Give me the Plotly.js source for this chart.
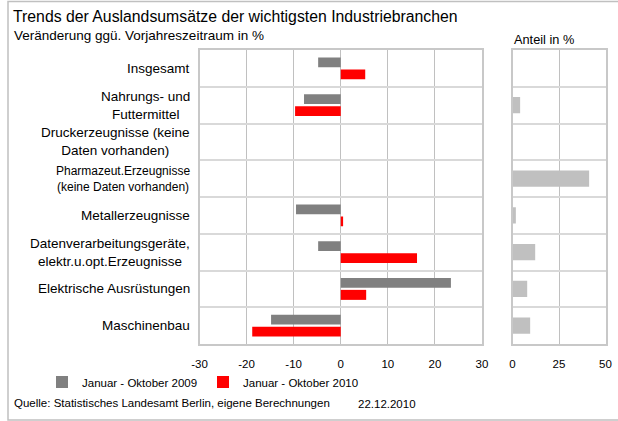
<!DOCTYPE html>
<html>
<head>
<meta charset="utf-8">
<script src="https://cdn.plot.ly/plotly-3.0.1.min.js"></script>
<style>html,body{margin:0;padding:0;background:#fff;}#chart{width:618px;height:421px;}</style>
</head>
<body>
<div id="chart"></div>
<script>
var categories = [
  "Insgesamt",
  "Nahrungs- und<br>Futtermittel",
  "Druckerzeugnisse (keine<br>Daten vorhanden)",
  "Pharmazeut.Erzeugnisse<br>(keine Daten vorhanden)",
  "Metallerzeugnisse",
  "Datenverarbeitungsgeräte,<br>elektr.u.opt.Erzeugnisse",
  "Elektrische Ausrüstungen",
  "Maschinenbau"
];
var seriesNames = ["Januar - Oktober 2009", "Januar - Oktober 2010"];
var values2009 = [-4.8, -7.8, null, null, -9.5, -4.8, 23.4, -14.8];
var values2010 = [5.2, -9.7, null, null, 0.5, 16.2, 5.4, -18.8];
var anteil = [null, 4.1, null, 41.2, 1.8, 12.2, 7.9, 9.5];
var leftTicks = [-30, -20, -10, 0, 10, 20, 30];
var rightTicks = [0, 25, 50];

var W = 618, H = 421;
function px(x){ return x / W; }
function py(y){ return 1 - y / H; }
var font = "Liberation Sans, Arial, sans-serif";
var labelSizes = [13.5, 13.5, 13.5, 12, 13.5, 13.5, 13.5, 13.5];

var traces = [
  {type: "bar", orientation: "h", name: seriesNames[0], x: values2009, y: categories,
   xaxis: "x", yaxis: "y", marker: {color: "#808080"}, hoverinfo: "x"},
  {type: "bar", orientation: "h", name: seriesNames[1], x: values2010, y: categories,
   xaxis: "x", yaxis: "y", marker: {color: "#ff0000"}, hoverinfo: "x"},
  {type: "bar", orientation: "h", name: "Anteil in %", x: anteil, y: categories,
   xaxis: "x2", yaxis: "y2", marker: {color: "#c0c0c0"}, width: 0.44, showlegend: false, hoverinfo: "x"}
];

var annotations = categories.map(function(c, i){
  return {xref: "paper", yref: "y", x: px(192), y: c, text: c, showarrow: false,
    xanchor: "right", yanchor: "middle", align: "center",
    font: {family: font, size: labelSizes[i], color: "#000"}};
});
annotations.push(
  {xref: "paper", yref: "paper", x: px(12), y: py(36), text: "Veränderung ggü. Vorjahreszeitraum in %",
   showarrow: false, xanchor: "left", yanchor: "middle", font: {family: font, size: 13.5, color: "#000"}},
  {xref: "paper", yref: "paper", x: px(512), y: py(40), text: "Anteil in %",
   showarrow: false, xanchor: "left", yanchor: "middle", font: {family: font, size: 12.75, color: "#000"}},
  {xref: "paper", yref: "paper", x: px(12), y: py(403), text: "Quelle: Statistisches Landesamt Berlin, eigene Berechnungen",
   showarrow: false, xanchor: "left", yanchor: "middle", font: {family: font, size: 11.5, color: "#000"}},
  {xref: "paper", yref: "paper", x: px(356), y: py(404), text: "22.12.2010",
   showarrow: false, xanchor: "left", yanchor: "middle", font: {family: font, size: 11.5, color: "#000"}}
);

var layout = {
  width: W, height: H,
  margin: {l: 0, r: 0, t: 0, b: 0},
  paper_bgcolor: "#fff", plot_bgcolor: "#fff",
  font: {family: font, size: 11.5, color: "#000"},
  title: {text: "Trends der Auslandsumsätze der wichtigsten Industriebranchen",
    x: px(13), xanchor: "left", xref: "paper", y: py(16), yanchor: "middle", yref: "paper",
    font: {family: font, size: 15.8, color: "#000"}},
  barmode: "group", bargap: 0.347, bargroupgap: 0.167,
  xaxis: {domain: [px(199.5), px(482)], range: [-30, 30], tickvals: leftTicks, ticktext: leftTicks.map(String),
    showgrid: true, gridcolor: "#c0c0c0", gridwidth: 1, zeroline: false,
    showline: true, mirror: true, linecolor: "#c8c8c8", linewidth: 2, ticks: "", ticklabelstandoff: 8,
    tickfont: {family: font, size: 11.5, color: "#000"}, automargin: false, fixedrange: true},
  yaxis: {domain: [py(344), py(50)], type: "category", autorange: "reversed", tickson: "boundaries",
    showticklabels: false, showgrid: true, gridcolor: "#d9d9d9", gridwidth: 2, zeroline: false,
    showline: true, mirror: true, linecolor: "#c8c8c8", linewidth: 2, ticks: "", automargin: false, anchor: "x"},
  xaxis2: {domain: [px(512.5), px(605.5)], range: [0, 50], tickvals: rightTicks, ticktext: rightTicks.map(String),
    anchor: "y2", showgrid: true, gridcolor: "#c0c0c0", gridwidth: 1, zeroline: false,
    showline: true, mirror: true, linecolor: "#c8c8c8", linewidth: 2, ticks: "", ticklabelstandoff: 8,
    tickfont: {family: font, size: 11.5, color: "#000"}, automargin: false, fixedrange: true},
  yaxis2: {domain: [py(344), py(50)], type: "category", autorange: "reversed", tickson: "boundaries",
    showticklabels: false, showgrid: true, gridcolor: "#d9d9d9", gridwidth: 2, zeroline: false,
    showline: true, mirror: true, linecolor: "#c8c8c8", linewidth: 2, ticks: "", automargin: false, anchor: "x2"},
  showlegend: true,
  legend: {orientation: "h", x: px(42), y: py(382), xanchor: "left", yanchor: "middle",
    font: {family: font, size: 11.5, color: "#000"}, itemwidth: 30, entrywidth: 116, entrywidthmode: "pixels",
    bgcolor: "rgba(0,0,0,0)", tracegroupgap: 0, itemclick: false, itemdoubleclick: false},
  annotations: annotations,
  shapes: [
    {type: "rect", xref: "paper", yref: "paper", x0: px(8), x1: px(640), y0: py(420), y1: py(1.5),
     line: {color: "#c0c0c0", width: 1.5}, fillcolor: "rgba(0,0,0,0)", layer: "below"}
  ]
};

Plotly.newPlot("chart", traces, layout, {displayModeBar: false, staticPlot: true});
</script>
</body>
</html>
